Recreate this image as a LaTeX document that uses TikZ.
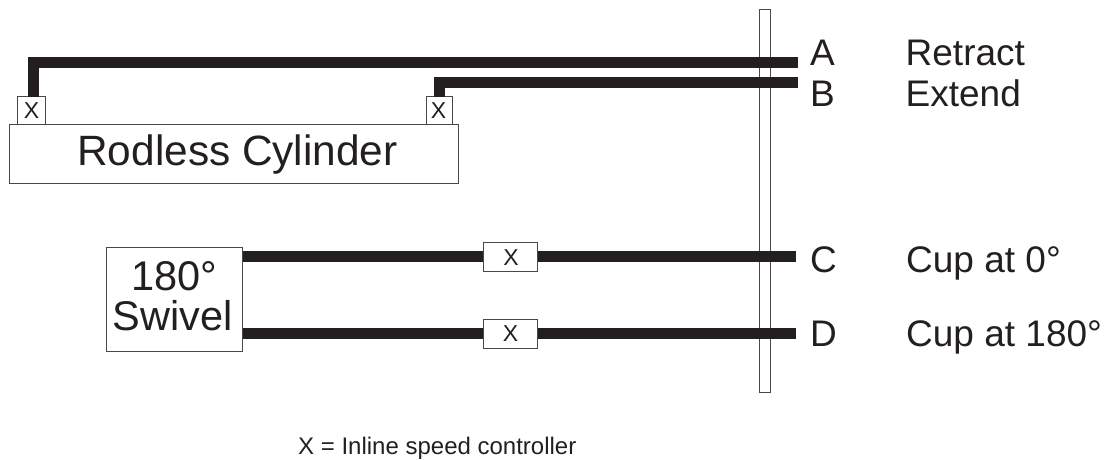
\documentclass[tikz,border=0pt]{standalone}
\usepackage{fontspec}
\setmainfont{Liberation Sans}
\definecolor{ink}{HTML}{231F20}
\definecolor{edge}{HTML}{4A4748}
\newcommand{\fpx}[1]{\fontsize{#1pt}{#1pt}\selectfont}
\tikzset{
  outline/.style={draw=edge,line width=0.9pt,fill=white,inner sep=0pt,text=ink},
  tube/.style={draw=ink,line width=11pt,line cap=butt,line join=miter},
  label/.style={inner sep=0pt,anchor=base west,text=ink},
  big/.style={label,font=\fpx{37}},
  valve/.style={outline,font=\fpx{23},align=center},
}
\begin{document}
\begin{tikzpicture}[x=1pt,y=-1pt]
\useasboundingbox (0,0) rectangle (1111,459);
% panel
\node[outline,minimum width=11pt,minimum height=382.5pt] (panel) at (765.2,200.9) {};
% cylinder and its controllers
\node[outline,minimum width=449pt,minimum height=59pt,font=\fpx{42.4},text depth=0pt] (cyl) at (233.5,154) {};
\node[label,anchor=base,font=\fpx{42.4}] (cyltext) at (237.5,165) {Rodless Cylinder};
\node[valve,minimum width=28pt,minimum height=27.5pt] (xa) at (31.5,110.2) {};
\node[valve,minimum width=26pt,minimum height=27.5pt] (xb) at (439,110.2) {};
\node[label,anchor=base,font=\fpx{23}] (xat) at (31.5,118.5) {X};
\node[label,anchor=base,font=\fpx{23}] (xbt) at (438.5,118.5) {X};
% swivel
\node[outline,minimum width=135.7pt,minimum height=104pt] (swivel) at (174.2,299.7) {};
\node[label,anchor=base,font=\fpx{41.5}] (swa) at (174.5,290) {180°};
\node[label,anchor=base,font=\fpx{41.5}] (swb) at (172.5,330.5) {Swivel};
% inline controllers
\node[valve,minimum width=54pt,minimum height=29pt] (xc) at (510.7,256.8) {};
\node[valve,minimum width=54pt,minimum height=29pt] (xd) at (510.7,333.5) {};
\node[label,anchor=base,font=\fpx{23}] (xct) at (511,265) {X};
\node[label,anchor=base,font=\fpx{23}] (xdt) at (510.5,341.5) {X};
% terminals
\coordinate (endA) at (798,62.5);
\coordinate (endB) at (798,82);
\coordinate (endC) at (796,256.8);
\coordinate (endD) at (796,333.8);
\coordinate (startA) at (33.5,96.5);
\coordinate (startB) at (439.5,96.5);
% tubes
\draw[tube] (startA) -- (startA |- endA) -- (endA);
\draw[tube] (startB) -- (startB |- endB) -- (endB);
\draw[tube] (endC -| swivel.east) -- (endC -| xc.west);
\draw[tube] (endC -| xc.east) -- (endC);
\draw[tube] (endD -| swivel.east) -- (endD -| xd.west);
\draw[tube] (endD -| xd.east) -- (endD);
% labels
\node[big] (la) at (810,65) {A};
\node[big] (lb) at (810,106.3) {B};
\node[big] (lc) at (810,272.5) {C};
\node[big] (ld) at (810,346) {D};
\node[big] (ra) at (905.5,65) {Retract};
\node[big] (rb) at (905.5,106.3) {Extend};
\node[big] (rc) at (906,272.5) {Cup at 0°};
\node[big] (rd) at (906,346) {Cup at 180°};
\node[label,font=\fpx{24}] (note) at (298,454) {X = Inline speed controller};
\end{tikzpicture}
\end{document}
